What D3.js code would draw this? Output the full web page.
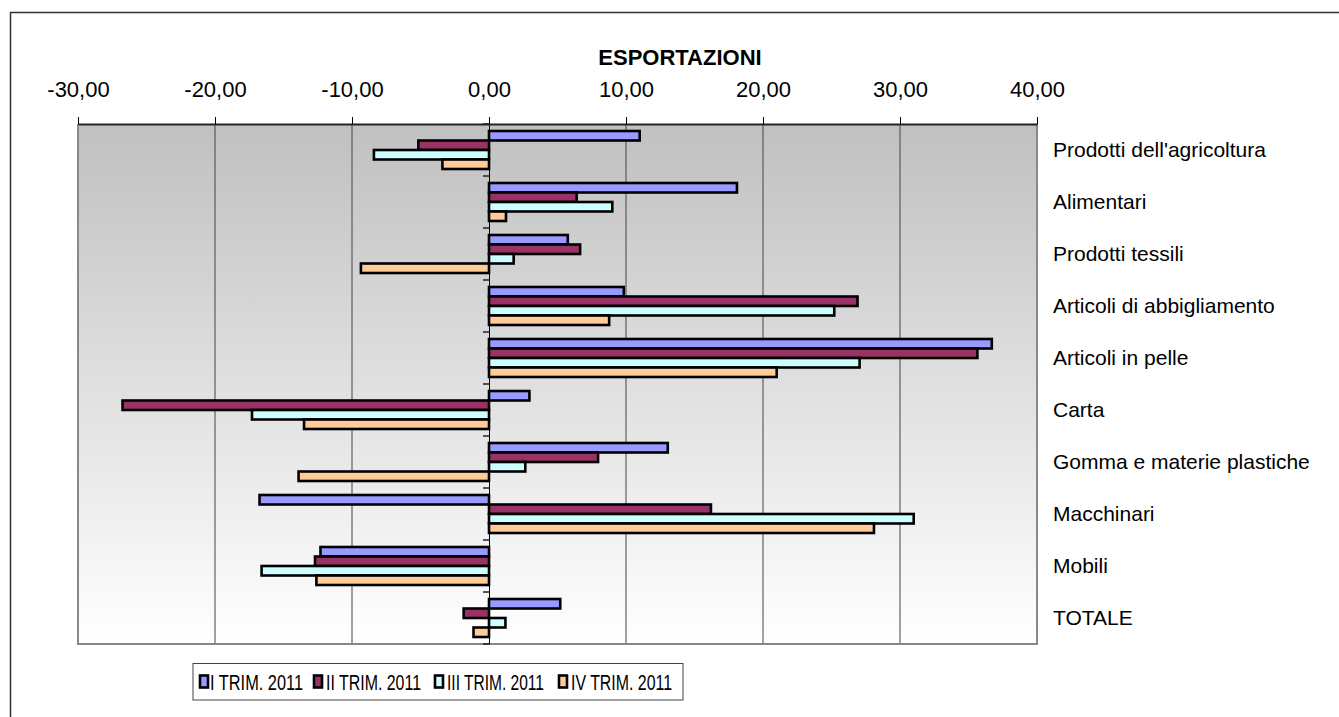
<!DOCTYPE html>
<head>
    <title>Esportazioni</title>
    <script src="https://d3js.org/d3.v7.min.js"></script>
    <style>
        body{
            margin: 0;
            background: #fff;
        }
        svg{
            display: block;
            font-family: "Liberation Sans", Arial, sans-serif;
        }
    </style>
</head>
<body>
    <svg id="chart" width="1339" height="717"></svg>

    <script>
        // Data
        var categories = ["Prodotti dell'agricoltura", "Alimentari", "Prodotti tessili", "Articoli di abbigliamento",
            "Articoli in pelle", "Carta", "Gomma e materie plastiche", "Macchinari", "Mobili", "TOTALE"];
        var seriesNames = ["I TRIM. 2011", "II TRIM. 2011", "III TRIM. 2011", "IV TRIM. 2011"];
        var trim1 = [11.0, 18.1, 5.75, 9.84, 36.7, 2.95, 13.05, -16.75, -12.3, 5.2];
        var trim2 = [-5.16, 6.4, 6.65, 26.9, 35.65, -26.75, 7.96, 16.2, -12.7, -1.85];
        var trim3 = [-8.4, 9.0, 1.8, 25.2, 27.05, -17.3, 2.65, 31.0, -16.6, 1.2];
        var trim4 = [-3.4, 1.24, -9.35, 8.77, 21.0, -13.5, -13.9, 28.1, -12.6, -1.13];
        var xTicks = [-30, -20, -10, 0, 10, 20, 30, 40];
        var colors = ["#9999FF", "#993366", "#CCFFFF", "#FFCC99"];

        var seriesValues = [trim1, trim2, trim3, trim4];

        var svg = d3.select("#chart");

        // plot area (note: "top" is taken by window.top)
        var pLeft = 78, pRight = 1037, pTop = 124, pBottom = 644;

        var x = d3.scaleLinear().domain([-30, 40]).range([pLeft, pRight]);
        var y0 = d3.scaleBand().domain(categories).range([pTop, pBottom]).padding(0);
        var y1 = d3.scaleBand().domain(seriesNames).range([0, y0.bandwidth()]).paddingOuter(0.737).paddingInner(0);

        var locale = d3.formatLocale({decimal: ",", thousands: ".", grouping: [3], currency: ["", "€"], minus: "-"});
        var fmt = locale.format(".2f");

        // outer frame
        svg.append("rect")
            .attr("x", 10.5).attr("y", 12.5)
            .attr("width", 1400).attr("height", 800)
            .attr("fill", "none")
            .attr("stroke", "#333")
            .attr("stroke-width", 1.5);

        // background gradient
        var grad = svg.append("defs").append("linearGradient")
            .attr("id", "bg").attr("x1", 0).attr("y1", 0).attr("x2", 0).attr("y2", 1);
        grad.append("stop").attr("offset", "0%").attr("stop-color", "#c0c0c0");
        grad.append("stop").attr("offset", "100%").attr("stop-color", "#ffffff");

        svg.append("rect")
            .attr("x", pLeft).attr("y", pTop)
            .attr("width", pRight - pLeft).attr("height", pBottom - pTop)
            .attr("fill", "url(#bg)");

        // gridlines
        svg.append("g")
            .selectAll("line")
            .data(xTicks.filter(d => d != 0 && d != -30 && d != 40))
            .enter()
            .append("line")
                .attr("x1", d => x(d)).attr("x2", d => x(d))
                .attr("y1", pTop).attr("y2", pBottom)
                .attr("stroke", "#444")
                .attr("stroke-width", 1);

        // plot border (gray)
        svg.append("path")
            .attr("d", "M" + pLeft + "," + pTop + "V" + pBottom + "H" + pRight + "V" + pTop)
            .attr("fill", "none")
            .attr("stroke", "#888")
            .attr("stroke-width", 2);

        // bars
        var groups = svg.append("g")
            .selectAll("g")
            .data(categories)
            .enter()
            .append("g")
                .attr("transform", d => "translate(0," + y0(d) + ")");

        groups.selectAll("rect")
            .data((c, ci) => seriesNames.map((s, si) => ({s: s, i: si, v: seriesValues[si][ci]})))
            .enter()
            .append("rect")
                .attr("x", d => x(Math.min(0, d.v)))
                .attr("width", d => Math.abs(x(d.v) - x(0)))
                .attr("y", d => y1(d.s))
                .attr("height", y1.bandwidth())
                .attr("fill", d => colors[d.i])
                .attr("stroke", "#000")
                .attr("stroke-width", 2.6);

        // category axis at zero
        var yAxis = svg.append("g")
            .attr("transform", "translate(" + x(0) + ",0)")
            .call(d3.axisLeft(y0).tickValues([]).tickSizeOuter(0));
        yAxis.select(".domain").attr("stroke", "#000").attr("stroke-width", 1);
        svg.append("g")
            .selectAll("line")
            .data(d3.range(categories.length + 1))
            .enter()
            .append("line")
                .attr("x1", x(0) - 6).attr("x2", x(0))
                .attr("y1", i => pTop + i * y0.step()).attr("y2", i => pTop + i * y0.step())
                .attr("stroke", "#222")
                .attr("stroke-width", 1.5);

        // top value axis
        var xAxis = svg.append("g")
            .attr("transform", "translate(0," + pTop + ")")
            .call(d3.axisTop(x).tickValues(xTicks).tickFormat(fmt).tickSize(7).tickSizeOuter(0).tickPadding(20));
        xAxis.select(".domain").attr("stroke", "#222").attr("stroke-width", 2);
        xAxis.selectAll(".tick line").attr("stroke", "#000");
        xAxis.selectAll("text")
            .attr("font-size", 22)
            .attr("fill", "#000")
            .attr("font-family", "Liberation Sans, Arial, sans-serif");

        // title
        svg.append("text")
            .attr("x", 680).attr("y", 65)
            .attr("text-anchor", "middle")
            .attr("font-size", 22)
            .attr("font-weight", "bold")
            .text("ESPORTAZIONI");

        // category labels
        svg.append("g")
            .selectAll("text")
            .data(categories)
            .enter()
            .append("text")
                .attr("x", 1053)
                .attr("y", d => y0(d) + y0.bandwidth() / 2)
                .attr("dy", "0.32em")
                .attr("font-size", 21)
                .text(d => d);

        // legend
        var legend = svg.append("g");
        legend.append("rect")
            .attr("x", 193).attr("y", 663.5)
            .attr("width", 490).attr("height", 36.5)
            .attr("fill", "#fff")
            .attr("stroke", "#444")
            .attr("stroke-width", 1);

        var legX = [199, 313, 434, 558];
        var legW = [93, 95, 97, 101];
        var items = legend.selectAll("g.item")
            .data(seriesNames)
            .enter()
            .append("g")
                .attr("class", "item")
                .attr("transform", (d, i) => "translate(" + legX[i] + ",0)");
        items.append("rect")
            .attr("x", 1).attr("y", 675.5)
            .attr("width", 8).attr("height", 12)
            .attr("fill", (d, i) => colors[i])
            .attr("stroke", "#000")
            .attr("stroke-width", 2.6);
        items.append("text")
            .attr("x", (d, i) => i == 0 ? 11 : 13)
            .attr("y", 690)
            .attr("font-size", 22)
            .attr("font-family", "'Liberation Sans Narrow', 'Arial Narrow', 'Liberation Sans', sans-serif")
            .attr("textLength", (d, i) => legW[i])
            .attr("lengthAdjust", "spacingAndGlyphs")
            .text(d => d);
    </script>
</body>
</html>
